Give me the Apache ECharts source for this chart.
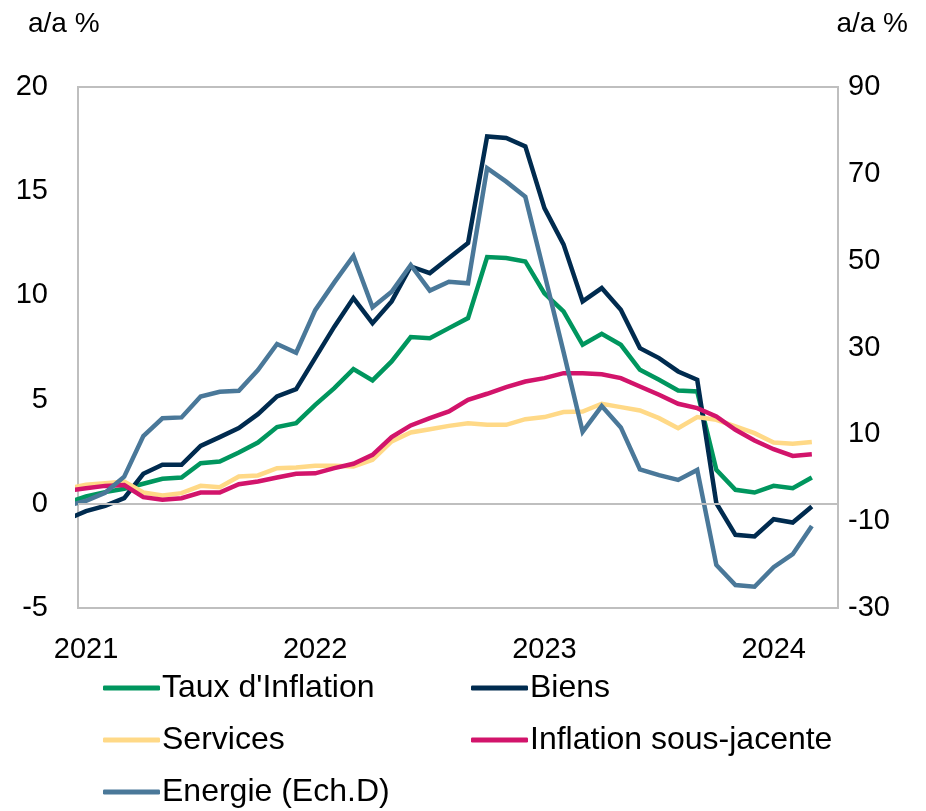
<!DOCTYPE html>
<html>
<head>
<meta charset="utf-8">
<script src="https://cdn.jsdelivr.net/npm/echarts@6/dist/echarts.min.js"></script>
<style>
  html, body { margin: 0; padding: 0; background: #fff; }
  #chart { width: 926px; height: 811px; }
</style>
</head>
<body>
<div id="chart"></div>
<script>
// Monthly data, Dec 2020 (index -1) to Mar 2024 (index 38); x = months since Jan 2021
const startMonth = -1;
const yearTicks = [0, 12, 24, 36];
const yearLabels = ['2021', '2022', '2023', '2024'];

const tauxInflation = [0.05, 0.35, 0.56, 0.72, 0.96, 1.2, 1.26, 1.95, 2.03, 2.46, 2.94, 3.68, 3.87,
  4.75, 5.55, 6.46, 5.92, 6.83, 8.0, 7.95, 8.43, 8.91, 11.84, 11.79, 11.63,
  10.1, 9.23, 7.63, 8.16, 7.63, 6.43, 5.95, 5.44, 5.39, 1.63, 0.67, 0.54, 0.86, 0.75, 1.26];

const biens = [-0.75, -0.35, -0.1, 0.27, 1.44, 1.87, 1.87, 2.78, 3.2, 3.63, 4.3, 5.15, 5.5,
  7.0, 8.5, 9.87, 8.67, 9.71, 11.39, 11.07, 11.79, 12.51, 17.63, 17.55, 17.15,
  14.19, 12.45, 9.71, 10.35, 9.31, 7.47, 6.99, 6.35, 5.95, 0.03, -1.49, -1.57, -0.74, -0.9, -0.13];

const services = [0.72, 0.91, 0.99, 1.07, 0.54, 0.4, 0.51, 0.86, 0.8, 1.31, 1.36, 1.71, 1.74,
  1.82, 1.82, 1.79, 2.11, 2.99, 3.42, 3.58, 3.74, 3.87, 3.79, 3.79, 4.06,
  4.16, 4.4, 4.43, 4.8, 4.64, 4.48, 4.11, 3.63, 4.16, 4.03, 3.71, 3.39, 2.94, 2.88, 2.96];

const sousJacente = [0.62, 0.75, 0.86, 0.9, 0.32, 0.19, 0.27, 0.54, 0.54, 0.94, 1.07, 1.26, 1.44,
  1.46, 1.71, 1.92, 2.35, 3.2, 3.76, 4.11, 4.43, 4.99, 5.28, 5.6, 5.87,
  6.03, 6.27, 6.27, 6.22, 6.03, 5.63, 5.23, 4.8, 4.59, 4.19, 3.55, 3.04, 2.62, 2.3, 2.38];

const energie = [-6.5, -5.3, -3.45, 0.24, 9.6, 13.7, 13.9, 18.7, 19.8, 20.05, 24.8, 30.8, 28.8,
  38.6, 45, 51.1, 39.25, 42.85, 49.0, 43.1, 45.15, 44.8, 71.3, 68.2, 64.7,
  47, 29, 10.6, 16.5, 11.6, 1.9, 0.6, -0.5, 1.8, -20.1, -24.7, -25.1, -20.6, -17.6, -11.1];

const seriesNames = ["Taux d'Inflation", 'Biens', 'Services', 'Inflation sous-jacente', 'Energie (Ech.D)'];
const seriesColors = ['#00965E', '#002B4F', '#FFD987', '#D2146B', '#4A7899'];

const leftTicks = [-5, 0, 5, 10, 15, 20];
const rightTicks = [-30, -10, 10, 30, 50, 70, 90];

function pairs(arr) { return arr.map((v, i) => [startMonth + i, v]); }

const FONT = '"Liberation Sans", Arial, sans-serif';
const FS = 29;
const LFS = 32;

const chart = echarts.init(document.getElementById('chart'), null, { renderer: 'canvas' });

function mkSeries(name, data, color, yIdx, extra) {
  return Object.assign({
    name: name,
    type: 'line',
    yAxisIndex: yIdx,
    data: pairs(data),
    showSymbol: false,
    symbol: 'none',
    clip: true,
    lineStyle: { color: color, width: 4.5, join: 'miter' },
    itemStyle: { color: color },
    emphasis: { disabled: true }
  }, extra || {});
}

function mkLegend(name, left, top) {
  return {
    data: [name],
    left: left, top: top,
    padding: 0,
    icon: 'roundRect',
    itemWidth: 57, itemHeight: 5,
    itemGap: 0,
    selectedMode: false,
    textStyle: { fontSize: LFS, color: '#000', fontFamily: FONT, lineHeight: 36, padding: [0, 0, 0, -3] }
  };
}

const option = {
  animation: false,
  backgroundColor: '#fff',
  textStyle: { fontFamily: FONT },
  grid: {
    left: 78, right: 88, top: 87, bottom: 203,
    show: true, borderColor: '#BFBFBF', borderWidth: 2, backgroundColor: 'transparent'
  },
  xAxis: {
    type: 'value',
    min: -0.42, max: 39.37,
    axisLine: { show: false },
    axisTick: { show: false },
    splitLine: { show: false },
    axisLabel: {
      customValues: yearTicks,
      formatter: v => yearLabels[yearTicks.indexOf(Math.round(v))] || '',
      fontSize: FS, color: '#000', fontFamily: FONT, margin: 27
    }
  },
  yAxis: [
    {
      type: 'value', min: -5, max: 20, interval: 5,
      axisLine: { show: false }, axisTick: { show: false }, splitLine: { show: false },
      axisLabel: { fontSize: FS, color: '#000', fontFamily: FONT, margin: 30 }
    },
    {
      type: 'value', min: -30, max: 90, interval: 20, position: 'right',
      axisLine: { show: false }, axisTick: { show: false }, splitLine: { show: false },
      axisLabel: { fontSize: FS, color: '#000', fontFamily: FONT, margin: 10 }
    }
  ],
  graphic: [
    { type: 'text', left: 28, top: 10, style: { text: 'a/a %', fontSize: 28, fill: '#000', fontFamily: FONT } },
    { type: 'text', right: 18, top: 10, style: { text: 'a/a %', fontSize: 28, fill: '#000', fontFamily: FONT } }
  ],
  legend: [
    mkLegend(seriesNames[0], 103, 670),
    mkLegend(seriesNames[1], 471, 670),
    mkLegend(seriesNames[2], 103, 722),
    mkLegend(seriesNames[3], 471, 722),
    mkLegend(seriesNames[4], 103, 774)
  ],
  series: [
    mkSeries(seriesNames[0], tauxInflation, seriesColors[0], 0, {
      markLine: {
        silent: true, symbol: 'none', label: { show: false },
        lineStyle: { color: '#BFBFBF', width: 2, type: 'solid' },
        data: [{ yAxis: 0 }]
      }
    }),
    mkSeries(seriesNames[1], biens, seriesColors[1], 0),
    mkSeries(seriesNames[2], services, seriesColors[2], 0),
    mkSeries(seriesNames[3], sousJacente, seriesColors[3], 0),
    mkSeries(seriesNames[4], energie, seriesColors[4], 1)
  ]
};

chart.setOption(option);
</script>
</body>
</html>
